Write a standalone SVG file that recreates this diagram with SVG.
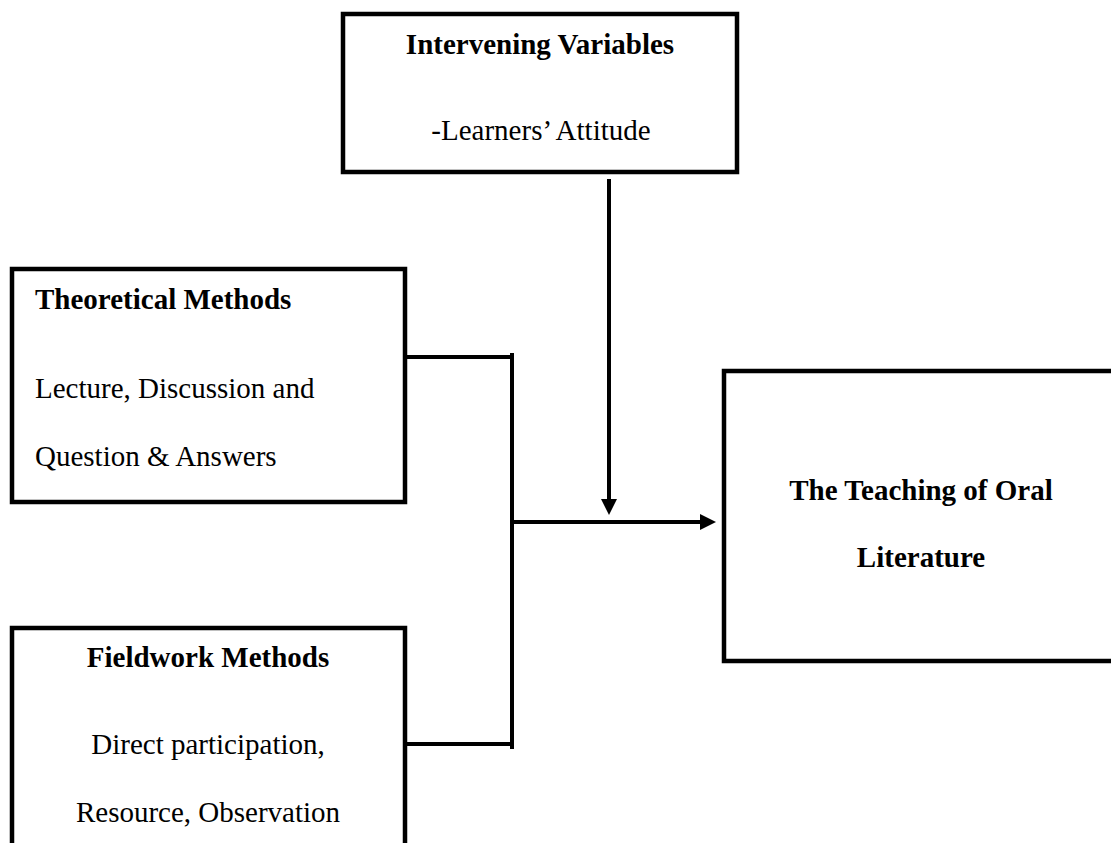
<svg xmlns="http://www.w3.org/2000/svg" width="1111" height="843" viewBox="0 0 1111 843">
<style>
.box{fill:#fff;stroke:#000;stroke-width:4.5}
.t{font-family:"Liberation Serif","Times New Roman",serif;font-size:29px;fill:#000}
.b{font-weight:bold}
.c{text-anchor:middle}
.ln{fill:none;stroke:#000;stroke-width:4}
</style>
<defs>
<marker id="ah" markerUnits="userSpaceOnUse" markerWidth="16" markerHeight="16" viewBox="0 0 16 16" refX="0" refY="8" orient="auto">
<path d="M0,0 L16,8 L0,16 z" fill="#000"/>
</marker>
</defs>
<rect width="1111" height="843" fill="#fff"/>
<g id="connectors">
<path class="ln" d="M405,357 H512"/>
<path class="ln" d="M512,353 V749"/>
<path class="ln" d="M398,744 H512"/>
<path class="ln" d="M512,522 H700" marker-end="url(#ah)"/>
<path class="ln" d="M609,179 V499" marker-end="url(#ah)"/>
</g>
<g id="intervening">
<rect class="box" x="343" y="14" width="394" height="158"/>
<text class="t b c" x="540" y="54">Intervening Variables</text>
<text class="t c" x="541" y="140">-Learners’ Attitude</text>
</g>
<g id="theoretical">
<rect class="box" x="12" y="269" width="393" height="233"/>
<text class="t b" x="35" y="309">Theoretical Methods</text>
<text class="t" x="35" y="398">Lecture, Discussion and</text>
<text class="t" x="35" y="466">Question &amp; Answers</text>
</g>
<g id="fieldwork">
<rect class="box" x="12" y="628" width="393" height="260"/>
<text class="t b c" x="208" y="667">Fieldwork Methods</text>
<text class="t c" x="208" y="754">Direct participation,</text>
<text class="t c" x="208" y="822">Resource, Observation</text>
</g>
<g id="teaching">
<rect class="box" x="724" y="371" width="420" height="290"/>
<text class="t b c" x="921" y="500">The Teaching of Oral</text>
<text class="t b c" x="921" y="567">Literature</text>
</g>
</svg>
